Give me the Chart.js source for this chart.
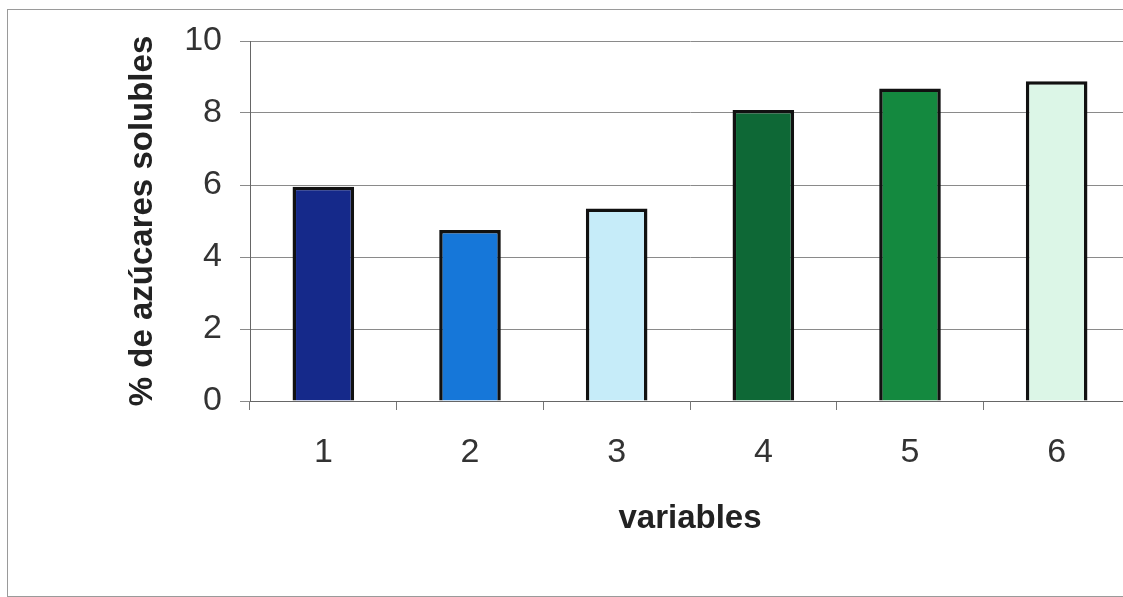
<!DOCTYPE html>
<html>
<head>
<meta charset="utf-8">
<script src="https://cdn.jsdelivr.net/npm/chart.js@4.4.0/dist/chart.umd.min.js"></script>
<style>
  html, body { margin: 0; padding: 0; background: #fff; overflow: hidden; }
  #frame { position: absolute; left: 7px; top: 9px; width: 1130px; height: 586px; border: 1px solid #9a9a9a; }
  #wrap { position: absolute; left: 0; top: 0; width: 1130px; height: 597px; }
</style>
</head>
<body>
<div id="frame"></div>
<div id="wrap"><canvas id="myChart"></canvas></div>
<script>
// data
const categories = ['1', '2', '3', '4', '5', '6'];
const values = [5.95, 4.75, 5.35, 8.08, 8.68, 8.88];
const barColors = ['#15298a', '#1677d9', '#c6ecf9', '#0e6836', '#14893f', '#dcf6e7'];
const yTicks = [0, 2, 4, 6, 8, 10];

const data = {
  labels: categories,
  datasets: [{
    label: 'azúcares',
    data: values,
    backgroundColor: barColors,
    borderColor: '#111',
    borderWidth: 3.5,
    categoryPercentage: 1,
    barPercentage: 0.42
  }]
};

const config = {
  type: 'bar',
  data: data,
  options: {
    responsive: false,
    animation: false,
    layout: { padding: { top: 41, right: 0, left: 123, bottom: 58 } },
    plugins: { legend: { display: false }, tooltip: { enabled: false } },
    scales: {
      x: {
        offset: true,
        grid: { offset: true, drawOnChartArea: false, drawTicks: true, tickLength: 9, color: '#777' },
        border: { color: '#666', width: 1 },
        ticks: { color: '#333', font: { family: 'Arial, Liberation Sans', size: 34 }, padding: 22 },
        title: { display: true, text: 'variables', color: '#222',
                 font: { family: 'Arial, Liberation Sans', size: 33, weight: 'bold' }, padding: 0 },
        afterFit: s => { s.height = 597 - 401 - 58; }
      },
      y: {
        min: 0, max: 10,
        afterBuildTicks: s => { s.ticks = yTicks.map(v => ({ value: v })); },
        grid: { color: '#8a8a8a', tickLength: 10 },
        border: { color: '#666', width: 1 },
        ticks: { color: '#333', font: { family: 'Arial, Liberation Sans', size: 34 }, padding: 18 },
        title: { display: true, text: '% de azúcares solubles', color: '#222',
                 font: { family: 'Arial, Liberation Sans', size: 33, weight: 'bold' }, padding: 0 },
        afterFit: s => { s.width = 250 - 123; }
      }
    }
  }
};

const cv = document.getElementById('myChart');
cv.width = 1130;
cv.height = 597;
const myChart = new Chart(cv, config);
</script>
</body>
</html>
